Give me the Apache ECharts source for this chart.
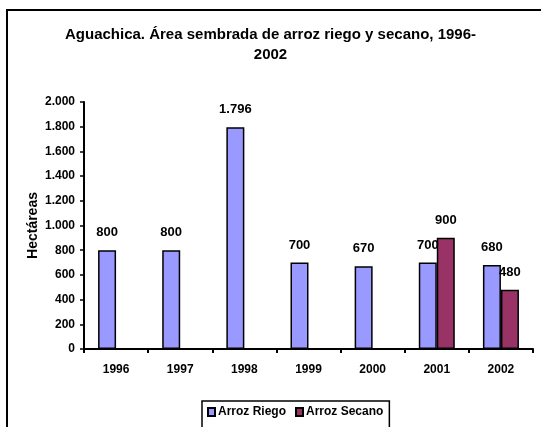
<!DOCTYPE html>
<html>
<head>
    <meta charset="UTF-8" />
    <title>Aguachica</title>
    <script src="https://cdn.jsdelivr.net/npm/echarts@6/dist/echarts.min.js"></script>
    <style>
        html, body { margin: 0; padding: 0; background: #fff; }
        #main { width: 541px; height: 427px; }
    </style>
</head>
<body>
    <div id="main"></div>
    <script>
    var years = ['1996', '1997', '1998', '1999', '2000', '2001', '2002'];
    var riego = [800, 800, 1796, 700, 670, 700, 680];
    var secano = [null, null, null, null, null, 900, 480];
    var yTicks = [0, 200, 400, 600, 800, 1000, 1200, 1400, 1600, 1800, 2000];

    // miles con punto, estilo español
    function fmt(v) {
        return String(v).replace(/\B(?=(\d{3})+(?!\d))/g, '.');
    }

    var font = 'Liberation Sans, Arial, sans-serif';
    var myChart = echarts.init(document.getElementById('main'));

    var lbl = {
        show: true,
        position: 'top',
        distance: 11,
        color: '#000',
        fontFamily: font,
        fontWeight: 'bold',
        fontSize: 13,
        formatter: function (p) { return fmt(p.value); }
    };

    myChart.setOption({
        animation: false,
        backgroundColor: '#fff',
        title: {
            text: 'Aguachica. Área sembrada de arroz riego y secano, 1996-\n2002',
            left: 'center',
            top: 20,
            textStyle: {
                fontFamily: font,
                fontWeight: 'bold',
                fontSize: 15,
                lineHeight: 20,
                color: '#000'
            }
        },
        graphic: [{
            type: 'rect',
            shape: { x: 7, y: 10, width: 600, height: 500 },
            style: { fill: null, stroke: '#000', lineWidth: 2 },
            silent: true
        }],
        legend: {
            data: ['Arroz Riego', 'Arroz Secano'],
            left: 202,
            top: 401,
            icon: 'rect',
            itemWidth: 7,
            itemHeight: 8,
            itemGap: 9,
            padding: [5, 6, 20, 5],
            borderColor: '#000',
            borderWidth: 1.5,
            textStyle: {
                fontFamily: font,
                fontWeight: 'bold',
                fontSize: 12,
                color: '#000',
                padding: [0, 0, 0, -2]
            }
        },
        grid: {
            left: 84,
            right: 8,
            top: 102,
            bottom: 78,
            containLabel: false
        },
        xAxis: {
            type: 'category',
            data: years,
            axisLine: { lineStyle: { color: '#000', width: 2 } },
            axisTick: { show: true, length: 4, lineStyle: { color: '#000', width: 2 } },
            axisLabel: {
                color: '#000',
                fontFamily: font,
                fontWeight: 'bold',
                fontSize: 12,
                margin: 15
            }
        },
        yAxis: {
            type: 'value',
            min: yTicks[0],
            max: yTicks[yTicks.length - 1],
            interval: 200,
            name: 'Hectáreas',
            nameLocation: 'middle',
            nameGap: 44,
            nameMoveOverlap: false,
            nameTextStyle: {
                color: '#000',
                fontFamily: font,
                fontWeight: 'bold',
                fontSize: 14
            },
            splitLine: { show: false },
            axisLine: { show: true, lineStyle: { color: '#000', width: 2 } },
            axisTick: { show: true, length: 4, lineStyle: { color: '#000', width: 1.5 } },
            axisLabel: {
                color: '#000',
                fontFamily: font,
                fontWeight: 'bold',
                fontSize: 12,
                margin: 9,
                formatter: fmt
            }
        },
        series: [{
            name: 'Arroz Riego',
            type: 'bar',
            data: riego,
            barWidth: 18,
            barGap: '0%',
            itemStyle: { color: '#9999FF', borderColor: '#000', borderWidth: 1.5 },
            label: lbl
        }, {
            name: 'Arroz Secano',
            type: 'bar',
            data: secano,
            barWidth: 18,
            barGap: '0%',
            itemStyle: { color: '#993366', borderColor: '#000', borderWidth: 1.5 },
            label: lbl
        }]
    });
    </script>
</body>
</html>
